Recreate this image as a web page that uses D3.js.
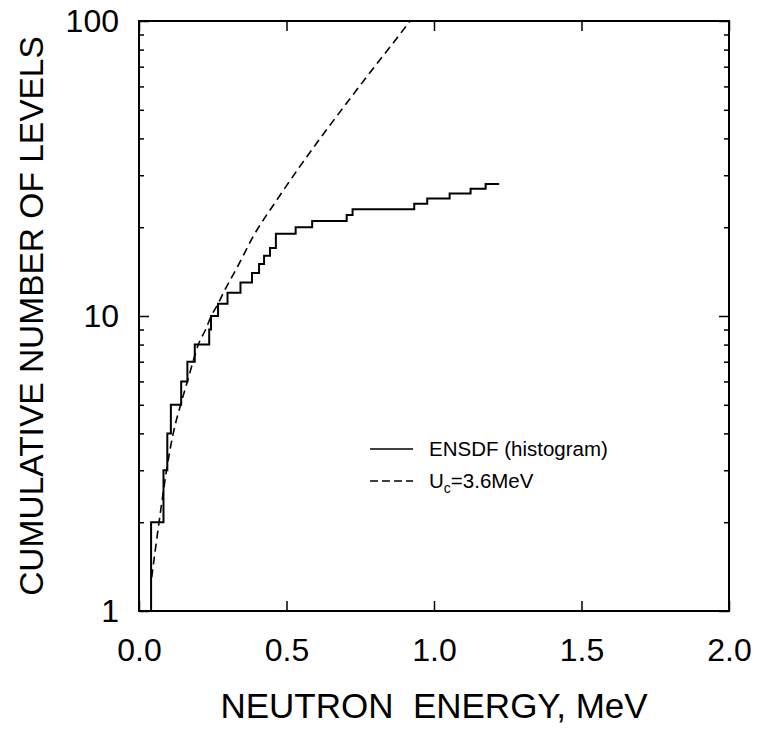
<!DOCTYPE html>
<html>
<head>
<meta charset="utf-8">
<script src="https://cdn.jsdelivr.net/npm/d3@7"></script>
<style>
  body { margin: 0; background: #fff; }
  text { font-family: "Liberation Sans", Arial, sans-serif; fill: #000; }
</style>
</head>
<body>
<div id="chart"></div>
<script>
// histogram (ENSDF cumulative levels): energy in MeV, count
var histEnergy = [0.041, 0.041, 0.083, 0.096, 0.108, 0.143, 0.164, 0.189, 0.238, 0.244, 0.268, 0.300, 0.344, 0.383, 0.407, 0.424, 0.444, 0.464, 0.531, 0.587, 0.704, 0.724, 0.933, 0.977, 1.053, 1.124, 1.175, 1.221]
var histCount  = [1, 2, 3, 4, 5, 6, 7, 8, 9, 10, 11, 12, 13, 14, 15, 16, 17, 19, 20, 21, 22, 23, 24, 25, 26, 27, 28, 28]

// model curve Uc = 3.6 MeV
var modelEnergy = [0.043, 0.068, 0.099, 0.116, 0.141, 0.164, 0.183, 0.201, 0.226, 0.245, 0.268, 0.290, 0.331, 0.387, 0.467, 0.546, 0.614, 0.704, 0.772, 0.879, 0.919]
var modelCount  = [1.3, 2.0, 3.25, 4.0, 5.0, 6.0, 7.0, 8.0, 9.0, 10.0, 11.0, 12.2, 14.5, 18.6, 24.7, 32.2, 40, 52.7, 64.7, 88.7, 100]

var xTicks = [0.0, 0.5, 1.0, 1.5, 2.0]
var yTicks = [1, 10, 100]
var yMinor = [2, 3, 4, 5, 6, 7, 8, 9, 20, 30, 40, 50, 60, 70, 80, 90]

var margin = { top: 21, right: 30, bottom: 121, left: 139 }
var width = 759 - margin.left - margin.right
var height = 732 - margin.top - margin.bottom

var svg = d3.select('#chart')
  .append('svg')
  .attr('width', 759)
  .attr('height', 732)

var g = svg.append('g')
  .attr('transform', 'translate(' + margin.left + ',' + margin.top + ')')

var x = d3.scaleLinear().domain([0, 2]).range([0, width])
var y = d3.scaleLog().domain([1, 100]).range([height, 0])

// ticks (inward)
var tickFont = '32px'

g.append('g')
  .attr('transform', 'translate(0,' + height + ')')
  .call(d3.axisBottom(x).tickValues(xTicks).tickSizeInner(-10).tickSizeOuter(0).tickPadding(27).tickFormat(d3.format('.1f')))
  .call(a => a.select('.domain').remove())
  .attr('font-size', tickFont)
  .attr('font-family', null)

g.append('g')
  .call(d3.axisTop(x).tickValues(xTicks).tickSizeInner(-10).tickSizeOuter(0).tickFormat(''))
  .call(a => a.select('.domain').remove())

g.append('g')
  .call(d3.axisLeft(y).tickValues(yTicks).tickSizeInner(-10).tickSizeOuter(0).tickPadding(20).tickFormat(d3.format('d')))
  .call(a => a.select('.domain').remove())
  .attr('font-size', tickFont)
  .attr('font-family', null)

g.append('g')
  .call(d3.axisLeft(y).tickValues(yMinor).tickSizeInner(-5).tickSizeOuter(0).tickFormat(''))
  .call(a => a.select('.domain').remove())

g.append('g')
  .attr('transform', 'translate(' + width + ',0)')
  .call(d3.axisRight(y).tickValues(yTicks).tickSizeInner(-10).tickSizeOuter(0).tickFormat(''))
  .call(a => a.select('.domain').remove())

g.append('g')
  .attr('transform', 'translate(' + width + ',0)')
  .call(d3.axisRight(y).tickValues(yMinor).tickSizeInner(-5).tickSizeOuter(0).tickFormat(''))
  .call(a => a.select('.domain').remove())

g.selectAll('.tick line').attr('stroke', '#000').attr('stroke-width', 1.5)

// frame
g.append('rect')
  .attr('width', width)
  .attr('height', height)
  .attr('fill', 'none')
  .attr('stroke', '#000')
  .attr('stroke-width', 2)

// histogram
var hist = histEnergy.map((e, i) => [e, histCount[i]])
g.append('path')
  .datum(hist)
  .attr('fill', 'none')
  .attr('stroke', '#000')
  .attr('stroke-width', 2)
  .attr('d', d3.line().x(d => x(d[0])).y(d => y(d[1])).curve(d3.curveStepAfter))

// model curve
var model = modelEnergy.map((e, i) => [e, modelCount[i]])
g.append('path')
  .datum(model)
  .attr('fill', 'none')
  .attr('stroke', '#000')
  .attr('stroke-width', 1.6)
  .attr('stroke-dasharray', '8,5')
  .attr('d', d3.line().x(d => x(d[0])).y(d => y(d[1])).curve(d3.curveMonotoneX))

// legend
var legend = g.append('g').attr('transform', 'translate(' + (370 - margin.left) + ',' + (449 - margin.top) + ')')
legend.append('line').attr('x1', 0).attr('x2', 43).attr('y1', 0).attr('y2', 0)
  .attr('stroke', '#000').attr('stroke-width', 1.6)
legend.append('line').attr('x1', 0).attr('x2', 43).attr('y1', 32).attr('y2', 32)
  .attr('stroke', '#000').attr('stroke-width', 1.6).attr('stroke-dasharray', '8,4')
legend.append('text').attr('x', 59).attr('y', 7).attr('font-size', '20.5px').text('ENSDF (histogram)')
var uc = legend.append('text').attr('x', 59).attr('y', 39).attr('font-size', '20.5px')
uc.append('tspan').text('U')
uc.append('tspan').attr('font-size', '14px').attr('dy', 5).text('c')
uc.append('tspan').attr('dy', -5).text('=3.6MeV')

// axis titles
svg.append('text')
  .attr('x', margin.left + width / 2)
  .attr('y', 718)
  .attr('text-anchor', 'middle')
  .attr('font-size', '35px')
  .style('white-space', 'pre')
  .text('NEUTRON  ENERGY, MeV')

svg.append('text')
  .attr('transform', 'translate(43,' + (margin.top + height / 2) + ') rotate(-90)')
  .attr('text-anchor', 'middle')
  .attr('font-size', '33.5px')
  .text('CUMULATIVE NUMBER OF LEVELS')
</script>
</body>
</html>
